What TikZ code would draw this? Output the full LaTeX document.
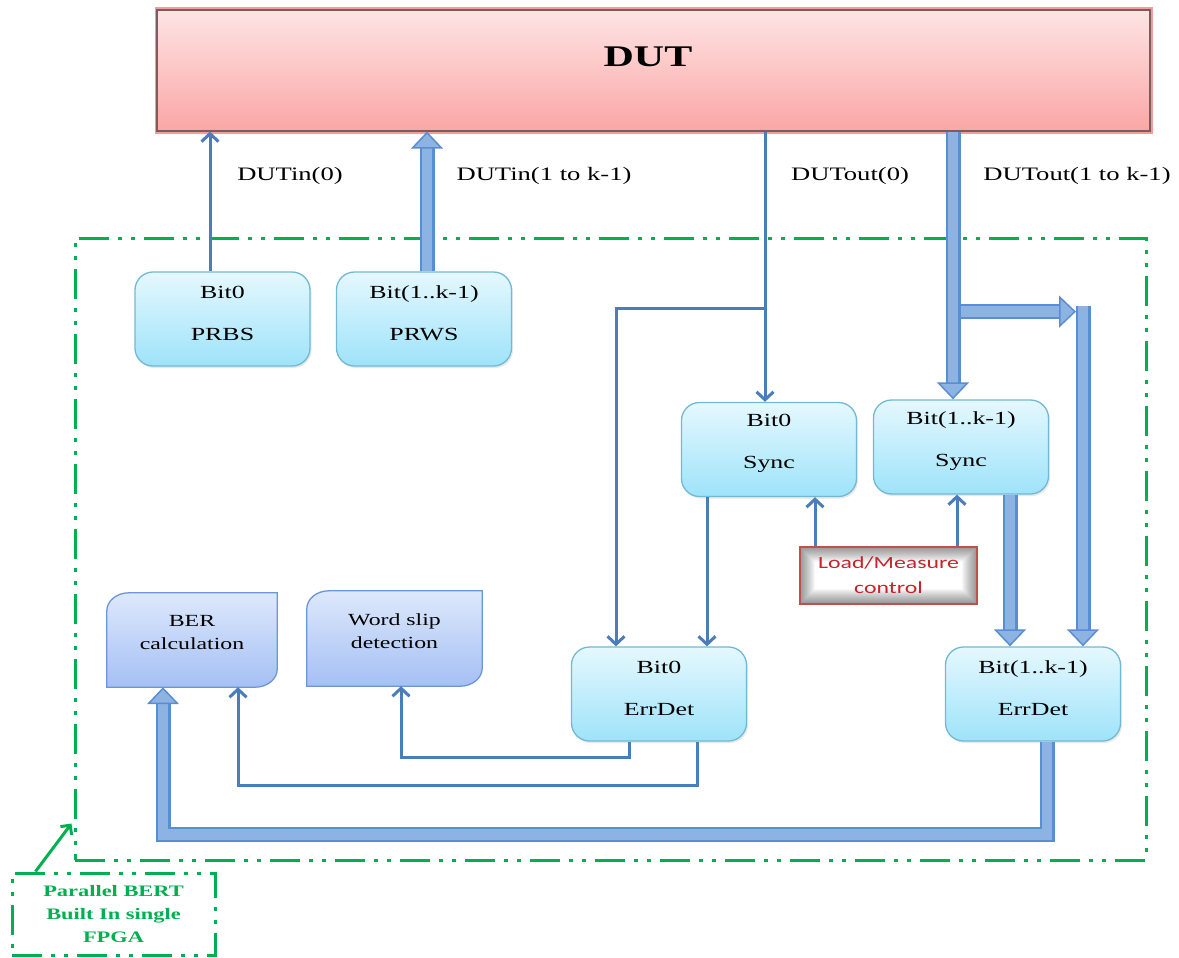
\documentclass[tikz,border=0pt]{standalone}
\usepackage{fontspec}
\setmainfont{Liberation Serif}[FakeStretch=1.4]
\newfontfamily\ctlfont{Carlito}[FakeStretch=1.4]
\usetikzlibrary{arrows.meta,calc,shadows,backgrounds}

\definecolor{wire}{HTML}{4A7EBB}
\definecolor{fatedge}{HTML}{5A8ED2}
\definecolor{fatfill}{HTML}{8DB3E2}
\definecolor{boxedge}{HTML}{72B9D4}
\definecolor{boxtop}{HTML}{E5F8FE}
\definecolor{boxbot}{HTML}{9EE3FA}
\definecolor{calcedge}{HTML}{6D96D6}
\definecolor{calctop}{HTML}{DDE8FC}
\definecolor{calcbot}{HTML}{A5C0F4}
\definecolor{duttop}{HTML}{FEE4E4}
\definecolor{dutbot}{HTML}{FBA6A6}
\definecolor{dutedge}{HTML}{7E5C5C}
\definecolor{dutglow}{HTML}{F49C9C}
\definecolor{fpgagreen}{HTML}{00B050}
\definecolor{ctlred}{HTML}{C8232C}
\definecolor{ctledge}{HTML}{C0504D}

\tikzset{
  wirearrow/.style={draw=wire, line width=3pt, line join=miter,
    -{Straight Barb[length=8pt,width=17pt]}},
  fatarrow/.style={draw=fatfill, line width=10.5pt, line join=miter,
    -{Triangle[length=17pt,width=32pt,line width=1.5pt,color=fatedge,fill=fatfill]},
    preaction={draw=fatedge, line width=15pt, line join=miter, arrows=-, shorten >=15pt}},
  unitbox/.style={rectangle, rounded corners=18pt, draw=boxedge, line width=1.3pt,
    top color=boxtop, bottom color=boxbot, minimum width=175pt, minimum height=94pt,
    inner sep=0pt, drop shadow={opacity=0.18, shadow xshift=1.5pt, shadow yshift=-2pt}},
  unittext/.style={align=center, inner sep=0pt, font=\fontsize{18.5}{42}\selectfont},
  calcbox/.style={rectangle, inner sep=0pt},
  calcshape/.style={draw=calcedge, line width=1.3pt, top color=calctop, bottom color=calcbot},
  calctext/.style={align=center, inner sep=0pt, font=\fontsize{17}{23}\selectfont},
  lbl/.style={inner sep=0pt, anchor=base, font=\fontsize{19}{22}\selectfont},
  dutbox/.style={rectangle, draw=dutedge, line width=1.2pt, top color=duttop, bottom color=dutbot,
    minimum width=993pt, minimum height=121pt, inner sep=0pt,
    preaction={draw=dutglow, line width=5pt}},
  duttext/.style={inner sep=0pt, font=\fontsize{30}{34}\selectfont\bfseries},
  ctlbox/.style={rectangle, draw=ctledge, line width=1.5pt, fill=white,
    minimum width=177pt, minimum height=57pt, inner sep=0pt, align=center,
    text=ctlred, font=\ctlfont\fontsize{17}{25}\selectfont,
    % soft inner shade towards the edges
    path picture={
      \foreach \w in {2,4,...,30}{
        \draw[black, opacity=0.03, line width=\w pt]
          (path picture bounding box.south west) rectangle (path picture bounding box.north east);}}},
  greendash/.style={draw=fpgagreen, line width=3pt,
    dash pattern=on 30pt off 9pt on 4pt off 9pt on 4pt off 9pt},
  greenarrow/.style={draw=fpgagreen, line width=3pt, -{Straight Barb[length=7pt,width=14pt]}},
}

\begin{document}
\begin{tikzpicture}[x=1pt, y=-1pt]
\useasboundingbox (0,0) rectangle (1179,958);

% device under test
\node[dutbox] (dut) at (653.5,70.5) {};
\node[duttext] (dut-t) at (648,57) {DUT};

% FPGA region and its tag
\node[greendash, rectangle, minimum width=1071pt, minimum height=622pt, inner sep=0pt] (fpga) at (610.5,549) {};
\node[greendash, rectangle, minimum width=203pt, minimum height=82pt, inner sep=0pt,
      align=center, text=fpgagreen, font=\fontsize{16}{23}\selectfont\bfseries] (tag) at (113.5,914)
      {Parallel BERT\\Built In single\\FPGA};
\coordinate (tagtip) at ($(fpga.south west)+(-2,-38)$);
\draw[greenarrow] ([xshift=25pt]tag.north west) -- (tagtip);

% generator, synchroniser and error detector units
\node[unitbox] (prbs) at (222.5,319) {};
\node[unittext] (prbs-t) at ([yshift=6pt]prbs.center) {Bit0\\PRBS};
\node[unitbox] (prws) at (424,319) {};
\node[unittext] (prws-t) at ([yshift=6pt]prws.center) {Bit(1..k-1)\\PRWS};
\node[unitbox] (s0) at (769,449.5) {};
\node[unittext] (s0-t) at ([yshift=6pt]s0.center) {Bit0\\Sync};
\node[unitbox] (s1) at (961,447) {};
\node[unittext] (s1-t) at ([yshift=6pt]s1.center) {Bit(1..k-1)\\Sync};
\node[unitbox] (e0) at (659,694) {};
\node[unittext] (e0-t) at ([yshift=6pt]e0.center) {Bit0\\ErrDet};
\node[unitbox] (e1) at (1033,694) {};
\node[unittext] (e1-t) at ([yshift=6pt]e1.center) {Bit(1..k-1)\\ErrDet};

% result blocks (rounded top-left and bottom-right corners)
\node[calcbox, minimum width=170pt, minimum height=94pt] (ber) at (192,640) {};
\node[calcbox, minimum width=175pt, minimum height=95pt] (ws) at (394.5,638.5) {};
\begin{pgfonlayer}{background}
\foreach \n in {ber,ws}{
  \path[calcshape] (\n.south west)
    -- ($(\n.north west)+(0,18)$)
    .. controls ($(\n.north west)+(0,8)$) and ($(\n.north west)+(10,0)$) .. ($(\n.north west)+(22,0)$)
    -- (\n.north east)
    -- ($(\n.south east)+(0,-18)$)
    .. controls ($(\n.south east)+(0,-8)$) and ($(\n.south east)+(-10,0)$) .. ($(\n.south east)+(-22,0)$)
    -- cycle;
}
\end{pgfonlayer}
\node[calctext] (ber-t) at ([yshift=7.5pt]ber.center) {BER\\calculation};
\node[calctext] (ws-t) at ([yshift=7pt]ws.center) {Word slip\\detection};

% load / measure control
\node[ctlbox] (lm) at (888.5,575.5) {Load/Measure\\control};

% signal labels
\node[lbl] (l-in0) at (290,180) {DUTin(0)};
\node[lbl] (l-in1) at (544,180) {DUTin(1 to k-1)};
\node[lbl] (l-out0) at (850,180) {DUTout(0)};
\node[lbl] (l-out1) at (1077,180) {DUTout(1 to k-1)};

% connection points
\coordinate (p0) at ([xshift=-12.5pt]prbs.north);
\coordinate (p1) at ([xshift=3pt]prws.north);
\coordinate (o0) at ([xshift=-4pt]s0.north);
\coordinate (o1) at ([xshift=-8pt]s1.north);
\coordinate (br0) at ($(o0 |- dut.south)+(0,177)$);
\coordinate (br1) at ($(o1 |- dut.south)+(0,180)$);
\coordinate (e0in) at ([xshift=-43pt]e0.north);
\coordinate (e1in) at ([xshift=50pt]e1.north);
\coordinate (v1top) at ($(e1in |- br1)+(0,-6)$);
\coordinate (s0o) at ([xshift=-62pt]s0.south);
\coordinate (s1o) at ([xshift=49pt]s1.south);
\coordinate (lm0) at ([xshift=-73.5pt]lm.north);
\coordinate (lm1) at ([xshift=68.5pt]lm.north);
\coordinate (e0l) at ([xshift=-30pt]e0.south);
\coordinate (e0r) at ([xshift=38pt]e0.south);
\coordinate (e1o) at ([xshift=14pt]e1.south);
\coordinate (wsin) at ([xshift=6.5pt]ws.south);
\coordinate (berthin) at ([xshift=46pt]ber.south);
\coordinate (berfat) at ([xshift=-29pt]ber.south);

% DUT inputs
\draw[wirearrow] (p0) -- (p0 |- dut.south);
\draw[fatarrow] (p1) -- (p1 |- dut.south);

% DUT output bit 0
\draw[wirearrow] (o0 |- dut.south) -- (o0);
\draw[wirearrow] (br0) -| (e0in);
\draw[wirearrow] (s0o) -- (s0o |- e0.north);

% DUT output bits 1..k-1
\draw[fatarrow] (br1) -- ++(123,0);
\draw[fatarrow] (o1 |- dut.south) -- (o1);
\draw[fatarrow] (v1top) -- (e1in);
\draw[fatarrow] (s1o) -- (s1o |- e1.north);

% load / measure control lines
\draw[wirearrow] (lm0) -- (lm0 |- s0.south);
\draw[wirearrow] (lm1) -- (lm1 |- s1.south);

% error detector results
\draw[wirearrow] (e0l) -- ++(0,16) -| (wsin);
\draw[wirearrow] (e0r) -- ++(0,44) -| (berthin);
\draw[fatarrow] (e1o) -- ++(0,93) -| (berfat);
\end{tikzpicture}
\end{document}
